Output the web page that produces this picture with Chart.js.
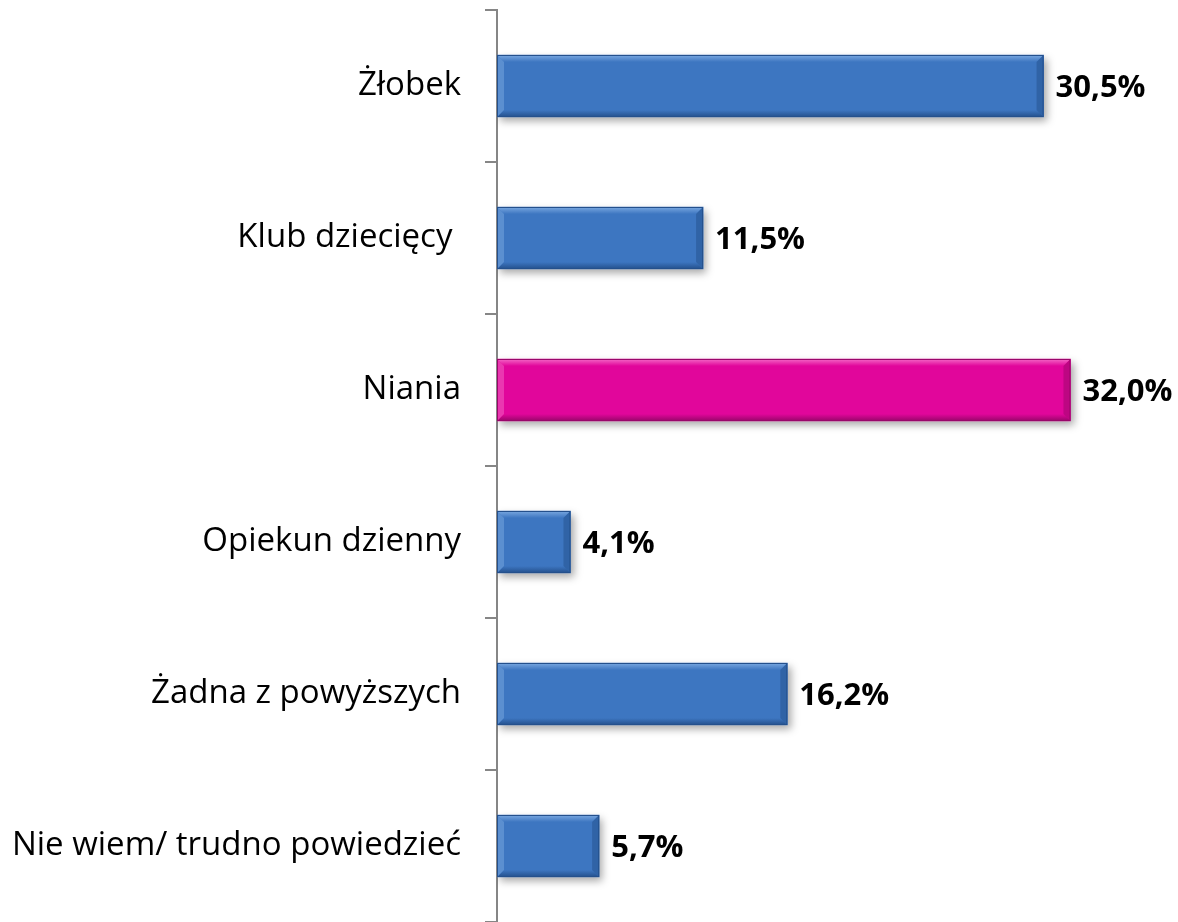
<!DOCTYPE html>
<html>
<head>
<meta charset="utf-8">
<script src="https://cdn.jsdelivr.net/npm/chart.js@4"></script>
<style>
  html, body { margin: 0; padding: 0; background: #fff; }
  #wrap { width: 1178px; height: 922px; }
</style>
</head>
<body>
<div id="wrap"><canvas id="Chart"></canvas></div>
<script>
const ctx = document.getElementById('Chart');

var categories = ['Żłobek', 'Klub dziecięcy ', 'Niania', 'Opiekun dzienny', 'Żadna z powyższych', 'Nie wiem/ trudno powiedzieć'];
var values = [30.5, 11.5, 32.0, 4.1, 16.2, 5.7];
var valueLabels = ['30,5%', '11,5%', '32,0%', '4,1%', '16,2%', '5,7%'];
var highlight = 'Niania';

var blue = { body: '#3d76c1', top: '#7aa8e0', bottom: '#24508c' };
var pink = { body: '#e1069b', top: '#f468c6', bottom: '#99066a' };

function pal(i) { return categories[i] === highlight ? pink : blue; }

var bevelPlugin = {
    id: 'bevel',
    beforeDatasetsDraw: function(chart) {
        var c = chart.ctx;
        c.save();
        c.shadowColor = 'rgba(0,0,0,0.35)';
        c.shadowBlur = 8;
        c.shadowOffsetX = 3;
        c.shadowOffsetY = 4;
    },
    afterDatasetsDraw: function(chart) {
        var c = chart.ctx;
        c.restore();
        var meta = chart.getDatasetMeta(0);
        meta.data.forEach(function(bar, i) {
            var p = pal(i);
            var x0 = bar.base, x1 = bar.x;
            var h = bar.height, y0 = bar.y - h / 2, y1 = bar.y + h / 2;
            var b = 7;
            c.save();
            // top bevel
            var g = c.createLinearGradient(0, y0, 0, y0 + b);
            g.addColorStop(0, p.top);
            g.addColorStop(1, p.body);
            c.fillStyle = g;
            c.beginPath();
            c.moveTo(x0, y0); c.lineTo(x1, y0); c.lineTo(x1 - b, y0 + b); c.lineTo(x0 + b, y0 + b); c.closePath();
            c.fill();
            // bottom bevel
            g = c.createLinearGradient(0, y1 - b, 0, y1);
            g.addColorStop(0, p.body);
            g.addColorStop(1, p.bottom);
            c.fillStyle = g;
            c.beginPath();
            c.moveTo(x0, y1); c.lineTo(x1, y1); c.lineTo(x1 - b, y1 - b); c.lineTo(x0 + b, y1 - b); c.closePath();
            c.fill();
            // left bevel
            c.globalAlpha = 0.5;
            c.fillStyle = p.top;
            c.beginPath();
            c.moveTo(x0, y0); c.lineTo(x0 + b, y0 + b); c.lineTo(x0 + b, y1 - b); c.lineTo(x0, y1); c.closePath();
            c.fill();
            // right bevel
            c.fillStyle = p.bottom;
            c.beginPath();
            c.moveTo(x1, y0); c.lineTo(x1 - b, y0 + b); c.lineTo(x1 - b, y1 - b); c.lineTo(x1, y1); c.closePath();
            c.fill();
            c.globalAlpha = 1;
            c.strokeStyle = p.bottom;
            c.lineWidth = 1;
            c.strokeRect(x0 + 0.5, y0 + 0.5, x1 - x0 - 1, h - 1);
            c.restore();

            // value label
            c.save();
            c.font = 'bold 31px "Open Sans"';
            c.fillStyle = '#000';
            c.textAlign = 'left';
            c.textBaseline = 'middle';
            c.fillText(valueLabels[i], x1 + 12, bar.y + 2);
            c.restore();
        });
    }
};

var graphData = {
    type: 'bar',
    data: {
        labels: categories,
        datasets: [{
            data: values,
            backgroundColor: categories.map(function(c, i) { return pal(i).body; }),
            borderWidth: 0,
            barThickness: 62
        }]
    },
    options: {
        indexAxis: 'y',
        responsive: true,
        maintainAspectRatio: false,
        animation: false,
        layout: { padding: { top: 10, bottom: 0, left: 0, right: 0 } },
        plugins: {
            legend: { display: false },
            tooltip: { enabled: false }
        },
        scales: {
            x: {
                display: false,
                min: 0,
                max: 38
            },
            y: {
                afterFit: function(scale) {
                    scale.width = 497;
                    scale.paddingTop = 0;
                    scale.paddingBottom = 0;
                },
                border: { display: true, color: '#868686', width: 2 },
                grid: {
                    offset: true,
                    drawOnChartArea: false,
                    drawTicks: true,
                    tickLength: 12,
                    color: '#868686',
                    lineWidth: 2
                },
                ticks: {
                    color: '#000',
                    padding: 24,
                    font: { family: 'Open Sans', size: 33 }
                }
            }
        }
    },
    plugins: [bevelPlugin]
};

var myChart = new Chart(ctx, graphData);
</script>
</body>
</html>
